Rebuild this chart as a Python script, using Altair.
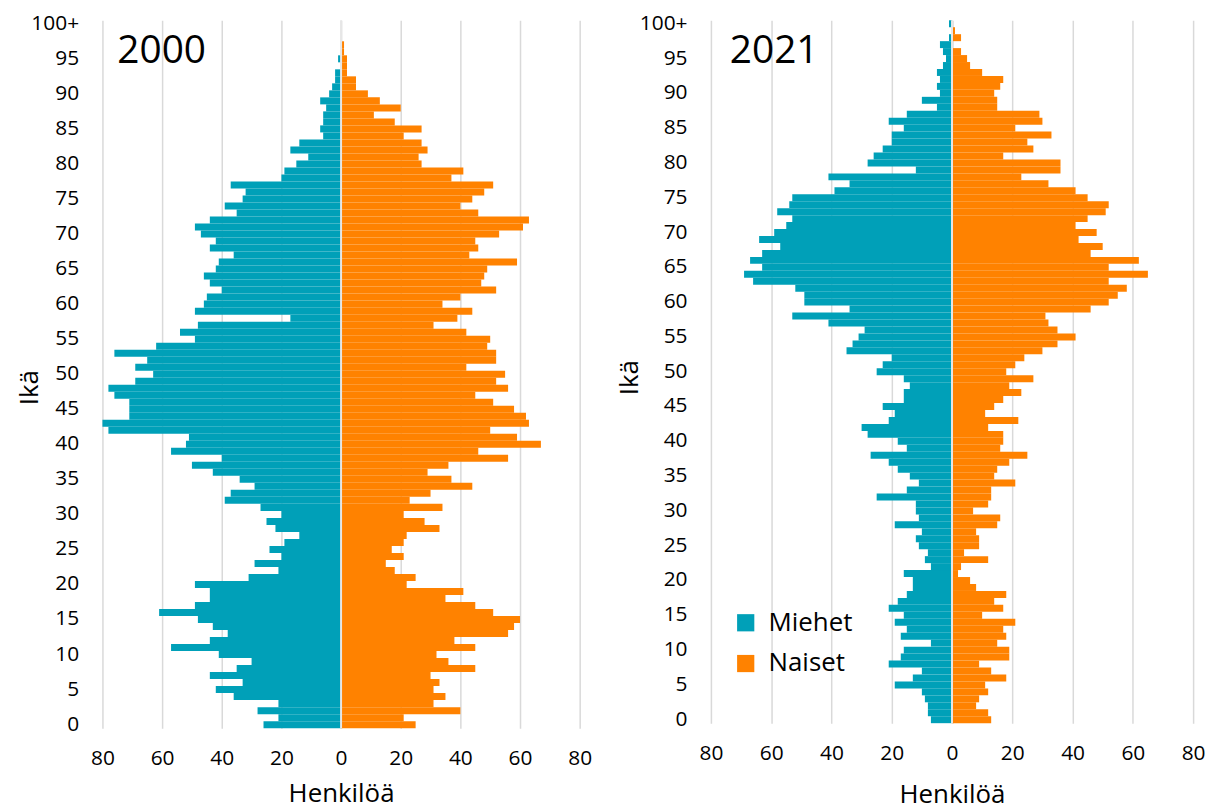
import altair as alt
import pandas as pd

# ---------------- data ----------------
ages = list(range(101))
age_ticks = list(range(0, 101, 5))
x_ticks = [-80, -60, -40, -20, 0, 20, 40, 60, 80]
series = ["Miehet", "Naiset"]
years = ["2000", "2021"]

men_2000 = [26, 21, 28, 21, 36, 42, 33, 44, 35, 30,
            41, 57, 44, 38, 43, 48, 61, 49, 44, 44,
            49, 31, 21, 29, 20, 24, 19, 14, 22, 25,
            20, 27, 39, 37, 29, 34, 43, 50, 40, 57,
            52, 51, 78, 80, 71, 71, 71, 76, 78, 69,
            63, 69, 65, 76, 62, 49, 54, 48, 17, 49,
            46, 45, 40, 44, 46, 42, 41, 36, 44, 42,
            47, 49, 44, 35, 39, 33, 32, 37, 20, 19,
            15, 11, 17, 14, 6, 7, 6, 6, 5, 7,
            4, 3, 2, 2, 0, 1, 0, 0, 0, 0,
            0]
women_2000 = [25, 21, 40, 31, 35, 31, 33, 30, 45, 36,
              32, 45, 38, 56, 58, 60, 51, 45, 35, 41,
              22, 25, 18, 15, 21, 17, 21, 22, 33, 28,
              21, 34, 23, 30, 44, 37, 29, 36, 56, 46,
              67, 59, 50, 63, 62, 58, 51, 45, 56, 52,
              55, 42, 52, 52, 49, 50, 42, 31, 39, 44,
              34, 40, 52, 47, 48, 49, 59, 43, 46, 45,
              53, 61, 63, 46, 40, 44, 48, 51, 37, 41,
              27, 26, 29, 27, 21, 27, 18, 11, 20, 13,
              9, 5, 5, 2, 2, 2, 1, 1, 0, 0,
              0]
men_2021 = [7, 8, 8, 9, 10, 19, 13, 10, 21, 17,
            16, 7, 17, 15, 19, 16, 21, 18, 15, 13,
            13, 16, 7, 9, 8, 11, 12, 10, 19, 11,
            12, 12, 25, 15, 11, 14, 18, 21, 27, 15,
            18, 28, 30, 21, 19, 23, 16, 16, 14, 16,
            25, 23, 20, 35, 33, 31, 29, 41, 53, 34,
            49, 49, 52, 66, 69, 63, 67, 63, 57, 64,
            59, 55, 53, 58, 54, 53, 39, 34, 41, 12,
            28, 26, 23, 20, 20, 16, 21, 15, 5, 10,
            4, 5, 4, 5, 3, 2, 3, 4, 1, 0,
            1]
women_2021 = [13, 12, 8, 9, 12, 11, 18, 13, 9, 19,
              19, 15, 18, 17, 21, 10, 17, 14, 18, 8,
              6, 2, 3, 12, 4, 9, 9, 8, 15, 16,
              7, 12, 13, 13, 21, 14, 15, 19, 25, 16,
              17, 17, 12, 22, 11, 14, 17, 23, 19, 27,
              18, 21, 24, 30, 35, 41, 35, 32, 31, 46,
              52, 55, 58, 52, 65, 52, 62, 46, 50, 42,
              48, 41, 45, 51, 52, 45, 41, 32, 23, 36,
              36, 17, 27, 25, 33, 21, 30, 29, 15, 15,
              14, 16, 17, 10, 6, 5, 3, 0, 3, 1,
              0]

# ---------------- style ----------------
TEAL = "#00A0B8"
ORANGE = "#FF8200"
GRID = "#D9D9D9"
FONT = "Open Sans"


def long_frame(men, women):
    return pd.DataFrame({
        "age": ages + ages,
        "sex": [series[0]] * len(ages) + [series[1]] * len(ages),
        "value": [-v for v in men] + list(women),
    })


def panel(men, women, year, width, height, title_x, title_y, x_title_pad,
          text_x, legend):
    df = long_frame(men, women)
    bars = alt.Chart(df).mark_bar(strokeWidth=0).encode(
        x=alt.X(
            "value:Q",
            scale=alt.Scale(domain=[-80, 80], nice=False),
            axis=alt.Axis(
                values=x_ticks,
                labelExpr="abs(datum.value)",
                labelFlush=False,
                title="Henkilöä",
                grid=True,
                gridColor=GRID,
                gridWidth=1.5,
                domain=False,
                ticks=False,
                labelPadding=20,
                titlePadding=x_title_pad,
            ),
        ),
        x2=alt.datum(0),
        y=alt.Y(
            "age:O",
            sort="descending",
            scale=alt.Scale(paddingInner=0, paddingOuter=0),
            axis=alt.Axis(
                values=age_ticks,
                labelExpr="datum.value == 100 ? '100+' : datum.label",
                title="Ikä",
                titleX=title_x,
                titleY=title_y,
                domain=False,
                ticks=False,
                labelPadding=24,
                grid=False,
            ),
        ),
        color=alt.Color(
            "sex:N",
            scale=alt.Scale(domain=series, range=[TEAL, ORANGE]),
            legend=legend,
        ),
    )
    zero = alt.Chart(pd.DataFrame({"v": [0]})).mark_rule(
        color="#E6E6E6", strokeWidth=2
    ).encode(x="v:Q")
    label = alt.Chart(pd.DataFrame({"t": [year]})).mark_text(
        align="left", baseline="alphabetic", fontSize=39, font=FONT, color="#000000"
    ).encode(text="t:N", x=alt.value(text_x), y=alt.value(43))
    return alt.layer(bars, zero, label).properties(width=width, height=height)


left = panel(men_2000, women_2000, years[0], 480, 712, -60, 369, 12, 15, None)
right = panel(
    men_2021, women_2021, years[1], 485, 707, -69, 359, 18, 19,
    alt.Legend(
        orient="none",
        legendX=22,
        legendY=593,
        title=None,
        symbolType="square",
        symbolSize=300,
        symbolStrokeWidth=0,
        labelFontSize=26,
        labelFont=FONT,
        labelColor="#000000",
        labelOffset=10,
        rowPadding=15,
    ),
)

chart = (
    alt.hconcat(left, right, spacing=23)
    .resolve_scale(x="independent", y="independent", color="independent")
    .resolve_legend(color="independent")
    .properties(padding={"left": 8, "top": 1, "right": 5, "bottom": 2})
    .configure_view(stroke="transparent")
    .configure_axis(
        labelFont=FONT,
        labelFontSize=21,
        labelColor="#000000",
        titleFont=FONT,
        titleFontSize=26,
        titleFontWeight="normal",
        titleColor="#000000",
    )
)

chart.save("out.html", embed_options={"renderer": "svg", "actions": False})
